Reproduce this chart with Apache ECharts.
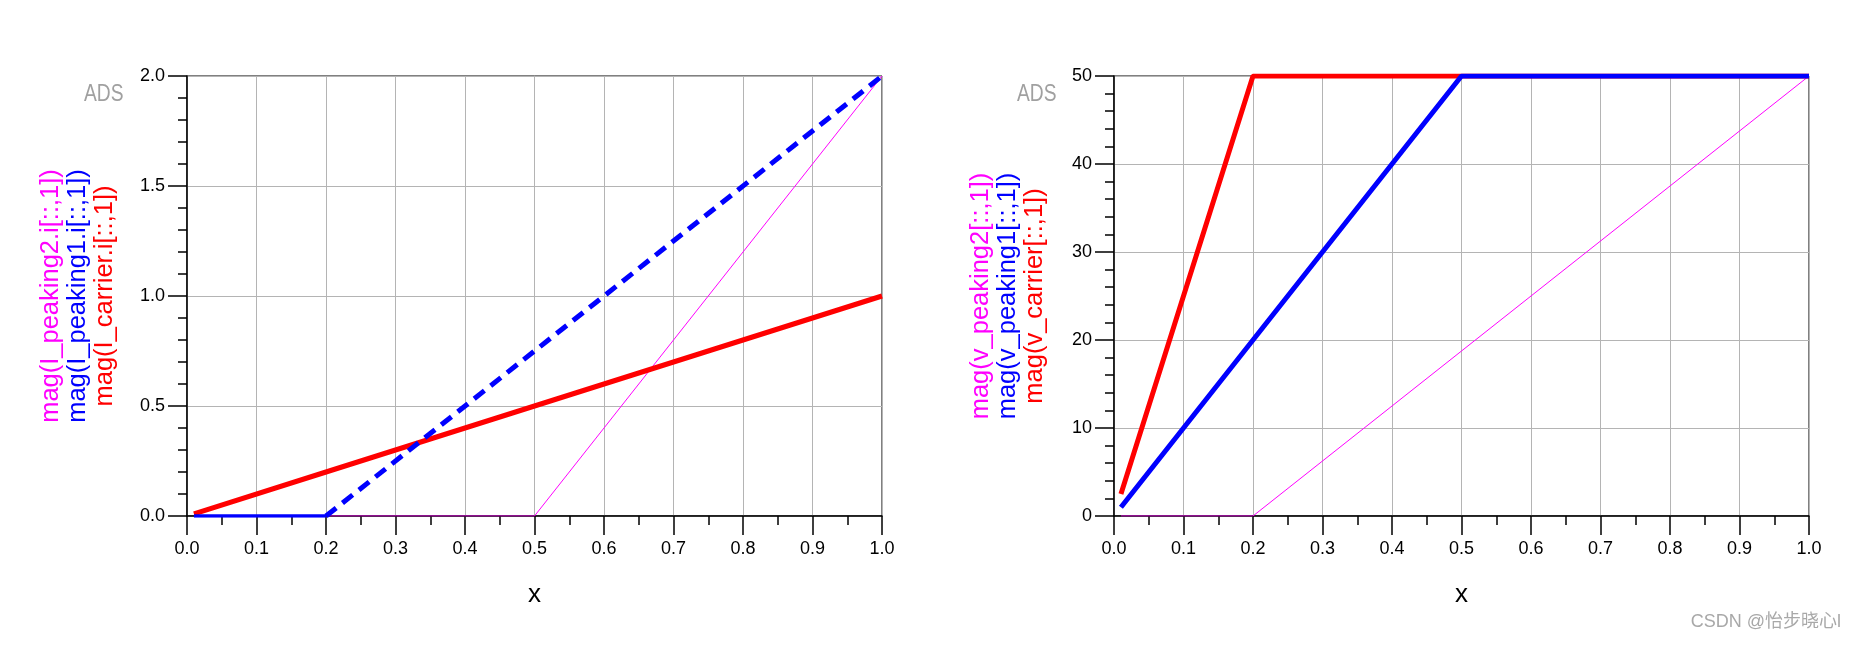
<!DOCTYPE html>
<html><head><meta charset="utf-8">
<script src="https://cdn.jsdelivr.net/npm/echarts@6/dist/echarts.min.js"></script>
<style>html,body{margin:0;padding:0;background:#fff}#c{width:1860px;height:645px}</style>
</head><body><div id="c"></div>
<script>
// ---- data ----
const xSweep    = [0.01, 0.2, 0.5, 1.0];
const iCarrier  = [0.01, 0.2, 0.5, 1.0];
const iPeaking1 = [0, 0, 0.75, 2.0];
const iPeaking2 = [0, 0, 0, 2.0];
const vCarrier  = [2.5, 50, 50, 50];
const vPeaking1 = [1, 20, 50, 50];
const vPeaking2 = [0, 0, 18.75, 50];
const xTicks = ['0.0','0.1','0.2','0.3','0.4','0.5','0.6','0.7','0.8','0.9','1.0'];
const iTicks = ['0.0','0.5','1.0','1.5','2.0'];
const vTicks = ['0','10','20','30','40','50'];
const iNames = ['mag(I_peaking2.i[::,1])','mag(I_peaking1.i[::,1])','mag(I_carrier.i[::,1])'];
const vNames = ['mag(v_peaking2[::,1])','mag(v_peaking1[::,1])','mag(v_carrier[::,1])'];
const xName = 'x';
const logoText = 'ADS';
const watermark = 'CSDN @怡步晓心l';

const F = 'Liberation Sans, Arial, sans-serif';
const RED = '#ff0000', BLUE = '#0000ff', MAG = '#ff00ff';

function pairs(xs, ys, a, b) {
  const out = [];
  for (let k = a; k <= b; k++) out.push([xs[k], ys[k]]);
  return out;
}

function xAxisCfg(gi) {
  return {
    type: 'value', gridIndex: gi, min: 0, max: 1, interval: 0.1,
    name: xName, nameLocation: 'middle', nameGap: 66, nameMoveOverlap: false,
    nameTextStyle: { fontSize: 26, color: '#000', fontFamily: F },
    axisLine: { show: true, onZero: false, lineStyle: { color: '#000', width: 1.5 } },
    axisTick: { show: true, inside: false, length: 19, lineStyle: { color: '#000', width: 1.5 } },
    minorTick: { show: true, splitNumber: 2, length: 9, lineStyle: { color: '#000', width: 1.5 } },
    splitLine: { show: true, lineStyle: { color: '#b4b4b4', width: 1 } },
    axisLabel: { margin: 24, fontSize: 18, color: '#000', fontFamily: F,
      formatter: v => xTicks[Math.round(v * 10)] }
  };
}
function yAxisCfg(gi, max, interval, ticks, names, gap) {
  const st = c => ({ color: c, fontSize: 25.5, lineHeight: 27, fontFamily: F });
  return {
    type: 'value', gridIndex: gi, min: 0, max: max, interval: interval,
    name: '{m|' + names[0] + '}\n{b|' + names[1] + '}\n{r|' + names[2] + '}',
    nameLocation: 'middle', nameRotate: 90, nameGap: gap, nameMoveOverlap: false,
    nameTextStyle: { fontFamily: F, rich: { m: st(MAG), b: st(BLUE), r: st(RED) } },
    axisLine: { show: true, onZero: false, lineStyle: { color: '#000', width: 1.5 } },
    axisTick: { show: true, inside: false, length: 19, lineStyle: { color: '#000', width: 1.5 } },
    minorTick: { show: true, splitNumber: 5, length: 9, lineStyle: { color: '#000', width: 1.5 } },
    splitLine: { show: true, lineStyle: { color: '#b4b4b4', width: 1 } },
    axisLabel: { margin: 22, fontSize: 18, color: '#000', fontFamily: F,
      formatter: v => ticks[Math.round(v / interval)] }
  };
}
function line(name, xi, data, color, width, dashed, z) {
  return {
    type: 'line', name: name, xAxisIndex: xi, yAxisIndex: xi, data: data,
    showSymbol: false, symbol: 'none', z: z,
    lineStyle: { color: color, width: width, type: dashed ? [13, 8] : 'solid', cap: 'butt' },
    emphasis: { disabled: true }
  };
}
function logo(x) {
  return { type: 'text', x: x, y: 82, scaleX: 0.8, style: { text: logoText, fontSize: 24,
      fontFamily: 'Liberation Sans Narrow, Liberation Sans, sans-serif',
      fill: '#a0a0a0', textShadowColor: '#d4d4d4', textShadowOffsetX: -1, textShadowOffsetY: -1, textShadowBlur: 0 } };
}

const chart = echarts.init(document.getElementById('c'), null, { renderer: 'canvas' });
chart.setOption({
  animation: false,
  backgroundColor: '#fff',
  grid: [
    { left: 187, top: 76, width: 695, height: 440, show: true, borderColor: '#000', borderWidth: 1, containLabel: false, outerBoundsMode: 'none' },
    { left: 1114, top: 76, width: 695, height: 440, show: true, borderColor: '#000', borderWidth: 1, containLabel: false, outerBoundsMode: 'none' }
  ],
  xAxis: [xAxisCfg(0), xAxisCfg(1)],
  yAxis: [
    yAxisCfg(0, 2, 0.5, iTicks, iNames, 69),
    yAxisCfg(1, 50, 10, vTicks, vNames, 66)
  ],
  series: [
    line(iNames[0], 0, pairs(xSweep, iPeaking2, 0, 3), MAG, 1, false, 2),
    line(iNames[2], 0, pairs(xSweep, iCarrier, 0, 3), RED, 5, false, 3),
    line(iNames[1], 0, pairs(xSweep, iPeaking1, 0, 1), BLUE, 3.5, false, 4),
    line(iNames[1], 0, pairs(xSweep, iPeaking1, 1, 3), BLUE, 5, true, 4),
    line(vNames[0], 1, pairs(xSweep, vPeaking2, 0, 3), MAG, 1, false, 2),
    line(vNames[2], 1, pairs(xSweep, vCarrier, 0, 3), RED, 5, false, 3),
    line(vNames[1], 1, pairs(xSweep, vPeaking1, 0, 3), BLUE, 5, false, 4)
  ],
  graphic: [
    logo(84), logo(1017),
    { type: 'text', right: 19, top: 613, style: { text: watermark, fontSize: 18, fontFamily: 'Liberation Sans, Noto Sans CJK SC, sans-serif',
        fill: '#a8a8a8' } }
  ]
});
</script>
</body></html>
